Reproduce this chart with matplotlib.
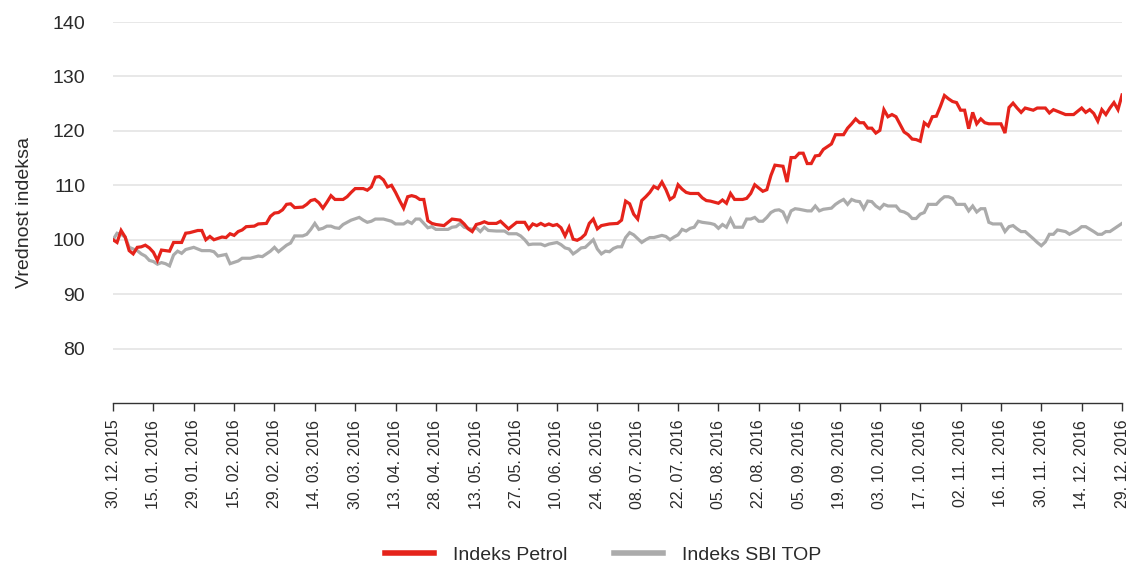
import matplotlib
matplotlib.use("Agg")
import matplotlib.pyplot as plt
import numpy as np

# x axis is in trading days; one labelled tick every 10 trading days
tick_labels = [
    "30. 12. 2015", "15. 01. 2016", "29. 01. 2016", "15. 02. 2016", "29. 02. 2016",
    "14. 03. 2016", "30. 03. 2016", "13. 04. 2016", "28. 04. 2016", "13. 05. 2016",
    "27. 05. 2016", "10. 06. 2016", "24. 06. 2016", "08. 07. 2016", "22. 07. 2016",
    "05. 08. 2016", "22. 08. 2016", "05. 09. 2016", "19. 09. 2016", "03. 10. 2016",
    "17. 10. 2016", "02. 11. 2016", "16. 11. 2016", "30. 11. 2016", "14. 12. 2016",
    "29. 12. 2016",
]

# Indeks Petrol (trading day, value)
petrol_day = [
    0, 1, 2, 3, 4, 5, 6, 7, 8, 9, 10, 11, 12, 14, 15, 17, 18, 19, 21, 22,
    23, 24, 25, 27, 28, 29, 30, 31, 32, 33, 35, 36, 38, 39, 40, 41, 42, 43, 44, 45,
    47, 48, 49, 50, 51, 52, 53, 54, 55, 57, 58, 59, 60, 62, 63, 64, 65, 66, 67, 68,
    69, 70, 71, 72, 73, 74, 75, 76, 77, 78, 79, 80, 82, 83, 84, 86, 87, 88, 89, 90,
    91, 92, 93, 95, 96, 98, 99, 100, 102, 103, 104, 105, 106, 107, 108, 109, 110, 111, 112, 113,
    114, 115, 116, 117, 118, 119, 120, 121, 123, 125, 126, 127, 128, 129, 130, 131, 132, 133, 134, 135,
    136, 137, 138, 139, 140, 141, 142, 143, 145, 146, 147, 148, 149, 150, 151, 152, 153, 154, 156, 157,
    158, 159, 161, 162, 163, 164, 166, 167, 168, 169, 170, 171, 172, 173, 174, 175, 176, 177, 178, 179,
    181, 182, 183, 184, 185, 186, 187, 188, 189, 190, 191, 192, 193, 194, 195, 196, 197, 198, 199, 200,
    201, 202, 203, 204, 205, 206, 207, 208, 209, 210, 211, 212, 213, 214, 215, 216, 217, 220, 221, 222,
    223, 224, 225, 226, 228, 229, 231, 232, 233, 236, 238, 240, 241, 242, 243, 244, 245, 246, 247, 248,
    249, 250,
]
petrol_val = [
    100, 99.5, 101.7, 100.5, 98, 97.4, 98.6, 98.7, 99, 98.5, 97.7, 96.2, 98.1, 97.9, 99.5, 99.5, 101.2, 101.3, 101.7, 101.7,
    100, 100.6, 100, 100.5, 100.4, 101.1, 100.8, 101.5, 101.8, 102.4, 102.5, 102.9, 103, 104.3, 104.9, 105, 105.5, 106.5, 106.6, 105.9,
    106, 106.5, 107.2, 107.4, 106.8, 105.8, 106.9, 108.1, 107.4, 107.4, 107.9, 108.7, 109.4, 109.4, 109.1, 109.7, 111.5, 111.6, 111, 109.7,
    110, 108.7, 107.2, 105.8, 107.9, 108.1, 107.9, 107.4, 107.4, 103.5, 103, 102.8, 102.6, 103.2, 103.8, 103.6, 102.9, 102, 101.5, 102.8,
    103, 103.3, 103, 103, 103.4, 102, 102.6, 103.2, 103.2, 102, 102.9, 102.6, 103, 102.6, 102.9, 102.6, 102.8, 102.2, 100.7, 102.3,
    100.1, 99.9, 100.3, 101, 103, 103.8, 102, 102.6, 102.9, 103, 103.6, 107.1, 106.6, 104.7, 103.8, 107.2, 107.9, 108.7, 109.8, 109.4,
    110.6, 109.2, 107.4, 107.9, 110.1, 109.3, 108.7, 108.5, 108.5, 107.7, 107.2, 107.1, 106.9, 106.7, 107.3, 106.7, 108.5, 107.4, 107.4, 107.6,
    108.5, 110.1, 108.9, 109.2, 111.8, 113.7, 113.5, 110.6, 115.1, 115.1, 115.9, 115.9, 114, 114, 115.4, 115.5, 116.6, 117.1, 117.6, 119.3,
    119.3, 120.5, 121.3, 122.2, 121.5, 121.5, 120.5, 120.5, 119.6, 120.1, 123.9, 122.6, 123, 122.6, 121.2, 119.8, 119.3, 118.5, 118.4, 118.1,
    121.5, 120.9, 122.6, 122.7, 124.5, 126.5, 125.9, 125.4, 125.2, 123.8, 123.8, 120.4, 123.4, 121.3, 122.2, 121.5, 121.3, 121.3, 119.6, 124.3,
    125.1, 124.2, 123.4, 124.2, 123.8, 124.2, 124.2, 123.3, 123.9, 123, 123, 124.2, 123.4, 123.9, 123.2, 121.8, 123.9, 123, 124.2, 125.2,
    123.9, 126.6,
]

# Indeks SBI TOP (trading day, value)
sbi_day = [
    0, 1, 2, 3, 4, 5, 6, 7, 8, 9, 10, 11, 12, 13, 14, 15, 16, 17, 18, 20,
    22, 24, 25, 26, 28, 29, 31, 32, 34, 36, 37, 39, 40, 41, 42, 43, 44, 45, 47, 48,
    49, 50, 51, 52, 53, 54, 55, 56, 57, 58, 59, 61, 62, 63, 64, 65, 67, 69, 70, 72,
    73, 74, 75, 76, 77, 78, 79, 80, 83, 84, 85, 86, 87, 89, 90, 91, 92, 93, 95, 97,
    98, 100, 101, 102, 103, 104, 106, 107, 108, 110, 111, 112, 113, 114, 115, 116, 117, 118, 119, 120,
    121, 122, 123, 124, 125, 126, 127, 128, 129, 131, 132, 133, 134, 136, 137, 138, 139, 140, 141, 142,
    143, 144, 145, 146, 148, 149, 150, 151, 152, 153, 154, 156, 157, 158, 159, 160, 161, 162, 163, 164,
    165, 166, 167, 168, 169, 170, 172, 173, 174, 175, 176, 178, 179, 180, 181, 182, 183, 184, 185, 186,
    187, 188, 189, 190, 191, 192, 194, 195, 196, 197, 198, 199, 200, 201, 202, 204, 205, 206, 207, 208,
    209, 211, 212, 213, 214, 215, 216, 217, 218, 220, 221, 222, 223, 224, 225, 226, 228, 229, 230, 231,
    232, 233, 234, 236, 237, 239, 240, 241, 243, 244, 245, 246, 247, 248, 249, 250,
]
sbi_val = [
    100, 101.2, 101, 100.5, 98.6, 98.3, 98, 97.4, 97, 96.2, 96, 95.5, 95.8, 95.6, 95.2, 97.2, 97.9, 97.5, 98.2, 98.6,
    98, 98, 97.8, 97, 97.3, 95.6, 96.1, 96.6, 96.6, 97, 96.9, 97.9, 98.6, 97.8, 98.4, 99, 99.4, 100.7, 100.7, 101,
    101.9, 103, 101.9, 102.1, 102.5, 102.5, 102.2, 102.1, 102.8, 103.2, 103.6, 104.1, 103.6, 103.2, 103.4, 103.8, 103.8, 103.4, 102.9, 102.9,
    103.4, 103, 103.8, 103.8, 103, 102.2, 102.4, 101.9, 101.9, 102.3, 102.4, 103, 102.3, 101.9, 102.2, 101.5, 102.3, 101.7, 101.6, 101.6,
    101.1, 101.1, 100.7, 100, 99.1, 99.2, 99.2, 98.9, 99.2, 99.5, 99.1, 98.5, 98.3, 97.4, 97.9, 98.5, 98.6, 99.3, 100, 98.3,
    97.4, 97.9, 97.8, 98.4, 98.7, 98.7, 100.4, 101.3, 100.9, 99.5, 100, 100.4, 100.4, 100.8, 100.6, 100, 100.5, 100.9, 101.9, 101.6,
    102.1, 102.3, 103.4, 103.2, 103, 102.8, 102.1, 102.8, 102.3, 103.8, 102.3, 102.3, 103.8, 103.8, 104.1, 103.4, 103.4, 104.1, 105, 105.4,
    105.5, 105.1, 103.5, 105.3, 105.7, 105.6, 105.3, 105.3, 106.2, 105.3, 105.6, 105.8, 106.5, 107, 107.4, 106.5, 107.4, 107.1, 107, 105.7,
    107.1, 107, 106.2, 105.7, 106.5, 106.2, 106.2, 105.3, 105.1, 104.7, 103.9, 103.9, 104.7, 105, 106.5, 106.5, 107.3, 107.9, 107.9, 107.6,
    106.5, 106.5, 105.3, 106.2, 105.1, 105.7, 105.7, 103.2, 102.9, 102.9, 101.5, 102.4, 102.6, 102, 101.5, 101.5, 100.2, 99.5, 98.9, 99.6,
    101, 101, 101.8, 101.5, 101, 101.8, 102.4, 102.4, 101.5, 101, 101, 101.5, 101.5, 102, 102.5, 103,
]

RED = "#e5231b"
GREY = "#ababab"
TEXT = "#2a2a2a"

plt.rcParams["font.family"] = ["Liberation Sans", "DejaVu Sans"]

fig = plt.figure(figsize=(11.28, 5.65), dpi=100)
ax = fig.add_axes([0.1002, 0.2867, 0.8945, 0.6743])

ax.plot(sbi_day, sbi_val, color=GREY, lw=2.3, solid_joinstyle="miter", label="Indeks SBI TOP")
ax.plot(petrol_day, petrol_val, color=RED, lw=2.3, solid_joinstyle="miter", label="Indeks Petrol")

ax.set_xlim(0, 250)
ax.set_ylim(70, 140)
ax.set_yticks(np.arange(80, 141, 10))
ax.set_xticks(np.arange(0, 251, 10))
ax.set_xticklabels(tick_labels, rotation=90, fontsize=11.5, color=TEXT)
ax.tick_params(axis="y", length=0, pad=20, labelsize=14, labelcolor=TEXT)
ax.tick_params(axis="x", direction="out", length=6, width=1, color="#333333", pad=6)
ax.grid(axis="y", color="#e4e4e4", lw=1.2)
ax.set_axisbelow(True)
for side in ("top", "right", "left"):
    ax.spines[side].set_visible(False)
ax.spines["bottom"].set_color("#333333")
ax.spines["bottom"].set_linewidth(1)

ax.set_ylabel("Vrednost indeksa", fontsize=14, color=TEXT, labelpad=14)

handles, labels = ax.get_legend_handles_labels()
fig.legend(handles[::-1], labels[::-1], loc="center", bbox_to_anchor=(0.535, 0.017),
           ncol=2, frameon=False, fontsize=14, handlelength=2.5, handletextpad=1.0,
           columnspacing=2.4, labelcolor=TEXT)
for line in fig.legends[0].get_lines():
    line.set_linewidth(4)

fig.savefig("out.png", dpi=100)
